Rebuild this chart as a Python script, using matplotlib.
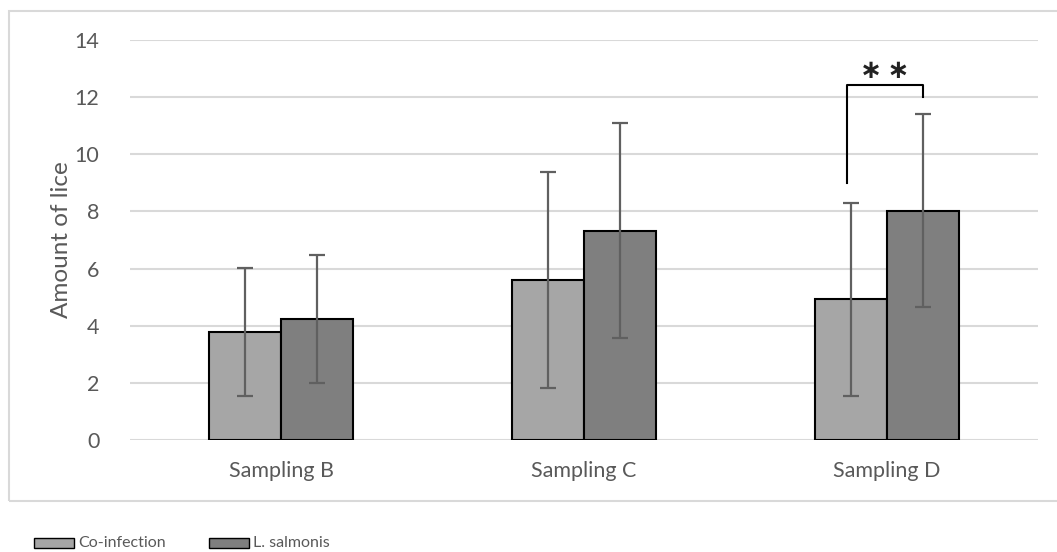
import matplotlib
matplotlib.use("Agg")
import matplotlib.pyplot as plt
import numpy as np
from matplotlib.patches import Rectangle

categories = ["Sampling B", "Sampling C", "Sampling D"]
coinf_mean = [3.78, 5.60, 4.93]
coinf_err = [2.24, 3.77, 3.38]
lsal_mean = [4.22, 7.33, 8.03]
lsal_err = [2.24, 3.77, 3.39]
series_names = ["Co-infection", "L. salmonis"]
yticks = [0, 2, 4, 6, 8, 10, 12, 14]

plt.rcParams["font.family"] = ["Lato", "DejaVu Sans"]

W, H = 1057, 552
fig = plt.figure(figsize=(W / 100, H / 100), dpi=100)

# outer chart frame (right edge runs off the canvas)
fig.patches.append(Rectangle((9 / W, 1 - 501 / H), 1.2, (501 - 11) / H,
                             transform=fig.transFigure, fill=False,
                             edgecolor="#D9D9D9", linewidth=1.5))

ax_left, ax_right, ax_top, ax_bottom = 130, 1038, 40, 440
ax = fig.add_axes([ax_left / W, 1 - ax_bottom / H,
                   (ax_right - ax_left) / W, (ax_bottom - ax_top) / H])

x = np.arange(len(categories))
w = 0.238
c_co, c_ls = "#A6A6A6", "#7F7F7F"
err_kw = dict(ecolor="#606060", elinewidth=1.6, capsize=5.5, capthick=1.6)

ax.bar(x - w / 2, coinf_mean, w, color=c_co, edgecolor="black", linewidth=1.5,
       yerr=coinf_err, error_kw=err_kw, zorder=3, label=series_names[0])
ax.bar(x + w / 2, lsal_mean, w, color=c_ls, edgecolor="black", linewidth=1.5,
       yerr=lsal_err, error_kw=err_kw, zorder=3, label=series_names[1])

ax.set_xlim(-0.5, 2.5)
ax.set_ylim(0, 14)
ax.set_yticks(yticks)
ax.set_xticks(x)
ax.set_xticklabels(categories)
ax.yaxis.grid(True, color="#D9D9D9", linewidth=1.5, zorder=0)
ax.set_axisbelow(True)
for s in ax.spines.values():
    s.set_visible(False)
ax.tick_params(axis="both", length=0, labelsize=15.5, colors="#595959")
ax.tick_params(axis="y", pad=22)
ax.tick_params(axis="x", pad=15)
ax.set_ylabel("Amount of lice", fontsize=17.5, color="#595959")
ax.yaxis.label.set_va("center")
ax.yaxis.set_label_coords((61 - ax_left) / (ax_right - ax_left), 0.5)

# significance bracket over Sampling D
xl = x[2] - w / 2 - 0.012
xr = x[2] + w / 2
ax.plot([xl, xl, xr, xr], [8.98, 12.42, 12.42, 12.0], color="black",
        linewidth=1.5, clip_on=False, zorder=4)
ax.text((xl + xr) / 2, 12.9, "\u2217\u2009\u2217", ha="center", va="center",
        fontsize=19, fontweight="bold", color="#222222", family="DejaVu Sans")

# legend below the frame
leg_y = 543
fig.patches.append(Rectangle((34 / W, 1 - (leg_y + 5) / H), 40 / W, 10 / H,
                             transform=fig.transFigure, facecolor=c_co,
                             edgecolor="black", linewidth=1.0))
fig.text(78 / W, 1 - leg_y / H, series_names[0], fontsize=11.5, color="#595959",
         va="center", ha="left")
fig.patches.append(Rectangle((209 / W, 1 - (leg_y + 5) / H), 40 / W, 10 / H,
                             transform=fig.transFigure, facecolor=c_ls,
                             edgecolor="black", linewidth=1.0))
fig.text(253 / W, 1 - leg_y / H, series_names[1], fontsize=11.5, color="#595959",
         va="center", ha="left")

fig.savefig("out.png", dpi=100)
